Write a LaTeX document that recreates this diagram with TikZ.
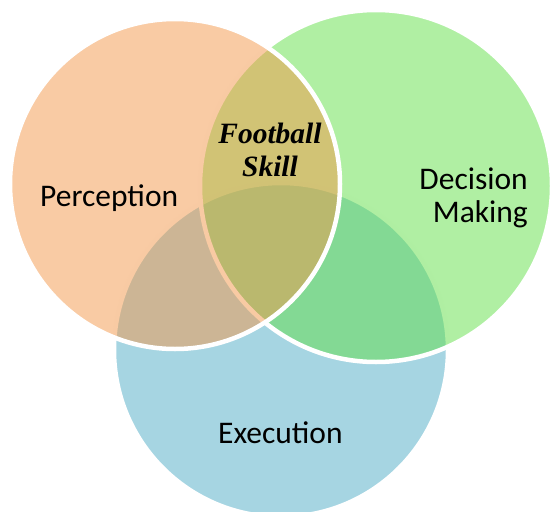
\documentclass[tikz,border=0pt]{standalone}
\usepackage{fontspec}
\newfontfamily\labelfont{Carlito}
\newfontfamily\skillfont{Liberation Serif}
\usepackage{tikz}
\usetikzlibrary{positioning}

\definecolor{percorange}{RGB}{243,151,73}
\definecolor{decgreen}{RGB}{97,223,71}
\definecolor{execblue}{RGB}{77,171,197}

\begin{document}
\begin{tikzpicture}[x=1pt, y=-1pt]

        \def\w{4.5pt}

        % Circles are half see-through, with a white rim
        \tikzset{set/.style={circle, draw=white, line width=\w, fill opacity=.5, inner sep=0pt}}
        \tikzset{setname/.style={font=\labelfont\fontsize{31.5}{33}\selectfont, inner sep=0pt, align=right}}

        \useasboundingbox (0, 0) rectangle (551, 511);

        % Back to front: Execution, Decision Making, Perception
        \begin{scope}
            \node[set, fill=execblue, minimum size=334pt] (E) at (281, 350) {};
            \node[set, fill=decgreen, minimum size=352pt] (D) at (376, 186) {};
            \node[set, fill=percorange, minimum size=330pt] (P) at (175, 184) {};
        \end{scope}

        \begin{scope}
            \node[setname, anchor=base west] (Plabel) at (40, 206) {Perception};
            \node[setname, anchor=east] (Dlabel) at (528, 198) {Decision\\Making};
            \node[setname, anchor=base west] (Elabel) at (218, 443) {Execution};
            \node[font=\skillfont\bfseries\itshape\fontsize{29.5}{33}\selectfont, inner sep=0pt, align=center] (S) at (270, 150) {Football\\Skill};
        \end{scope}

\end{tikzpicture}
\end{document}
